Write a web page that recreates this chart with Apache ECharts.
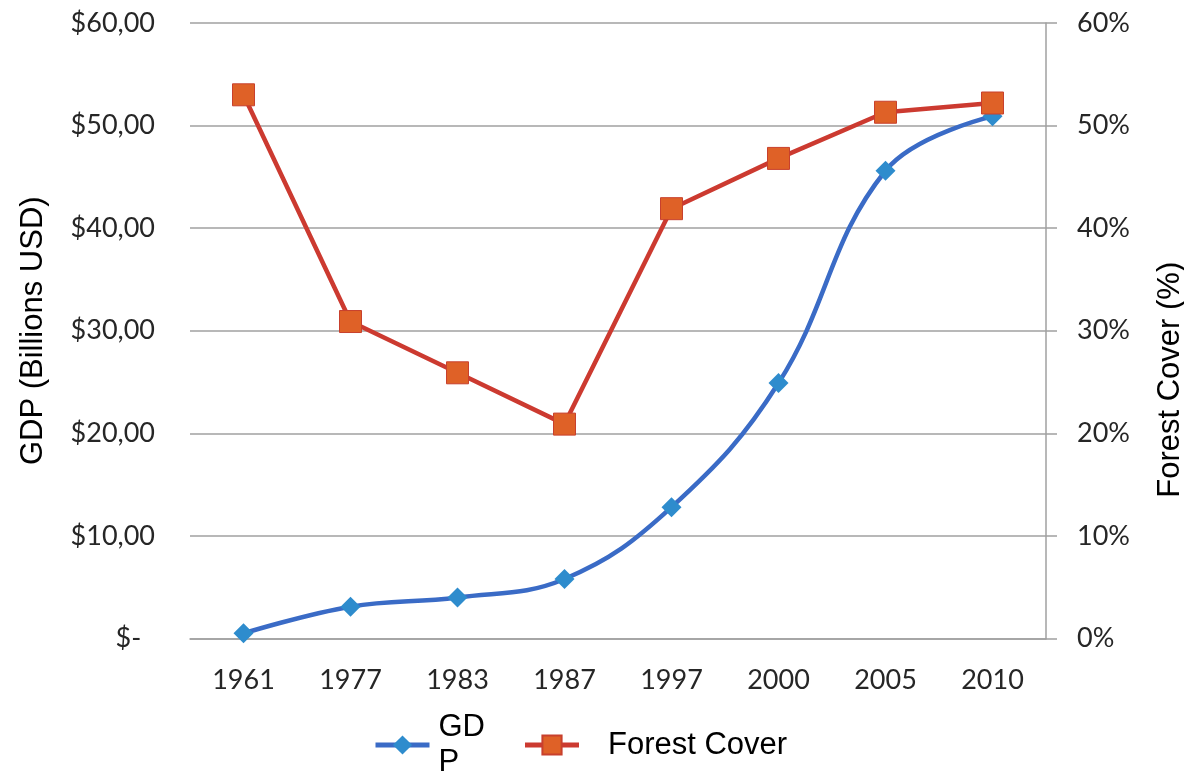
<!DOCTYPE html>
<html>
<head>
<meta charset="utf-8">
<script src="https://cdn.jsdelivr.net/npm/echarts@6/dist/echarts.min.js"></script>
<style>html,body{margin:0;padding:0;background:#fff;}#c{width:1184px;height:772px;}</style>
</head>
<body>
<div id="c"></div>
<script>
const years = ['1961','1977','1983','1987','1997','2000','2005','2010'];
const gdp = [0.5, 3.1, 4.0, 5.8, 12.8, 24.9, 45.6, 50.9];
const forestCover = [53.0, 30.9, 25.9, 20.9, 41.9, 46.8, 51.3, 52.2];
const gdpTicks = [0, 10, 20, 30, 40, 50, 60];
const forestTicks = [0, 10, 20, 30, 40, 50, 60];

const chart = echarts.init(document.getElementById('c'));
const tickFont = {fontFamily: 'Lato', fontSize: 27, color: '#262626'};
chart.setOption({
  animation: false,
  backgroundColor: '#fff',
  grid: {left: 190, right: 138, top: 23, bottom: 133.5, containLabel: false, outerBoundsMode: 'none'},
  legend: {
    left: 368, top: 705, itemWidth: 54, itemHeight: 24, itemGap: 34,
    lineStyle: {width: 5},
    textStyle: {fontFamily: 'Liberation Sans', fontSize: 31, color: '#000'},
    data: [
      {name: 'GDP', textStyle: {width: 50, overflow: 'breakAll', lineHeight: 35, padding: [0,0,0,4]}},
      {name: 'Forest Cover', textStyle: {padding: [0,0,0,24]}}
    ]
  },
  xAxis: {
    type: 'category', data: years, boundaryGap: true,
    axisLine: {lineStyle: {color: '#a0a0a0', width: 1.5}},
    axisTick: {show: false},
    axisLabel: Object.assign({margin: 28}, tickFont)
  },
  yAxis: [
    {
      type: 'value', min: gdpTicks[0], max: gdpTicks[gdpTicks.length-1], interval: 10,
      name: 'GDP (Billions USD)', nameLocation: 'middle', nameRotate: 90, nameGap: 141,
      nameTextStyle: {fontFamily: 'Liberation Sans', fontSize: 31, color: '#000'},
      axisLine: {show: false}, axisTick: {show: false},
      splitLine: {lineStyle: {color: '#a0a0a0', width: 1.5}},
      axisLabel: Object.assign({margin: 35, formatter: v => v === 0 ? '$-  ' : '$' + v + ',00'}, tickFont)
    },
    {
      type: 'value', min: forestTicks[0], max: forestTicks[forestTicks.length-1], interval: 10, position: 'right',
      name: 'Forest Cover (%)', nameLocation: 'middle', nameRotate: 90, nameGap: 109,
      nameTextStyle: {fontFamily: 'Liberation Sans', fontSize: 31, color: '#000', padding: [0, 98, 0, 0]},
      axisLine: {show: true, lineStyle: {color: '#a0a0a0', width: 1.5}},
      axisTick: {show: true, length: 11, lineStyle: {color: '#a0a0a0', width: 1.5}},
      splitLine: {show: false},
      axisLabel: Object.assign({margin: 31, formatter: '{value}%'}, tickFont)
    }
  ],
  series: [
    {
      name: 'GDP', type: 'line', yAxisIndex: 0, data: gdp, smooth: 0.4,
      symbol: 'diamond', symbolSize: 20,
      lineStyle: {color: '#3a6bc6', width: 4.5},
      itemStyle: {color: '#2e8ccd', borderColor: '#2e8ccd', borderWidth: 0}
    },
    {
      name: 'Forest Cover', type: 'line', yAxisIndex: 1, data: forestCover,
      symbol: 'rect', symbolSize: 22,
      lineStyle: {color: '#cc3a30', width: 4.5},
      itemStyle: {color: '#df6127', borderColor: '#c8402d', borderWidth: 1}
    }
  ]
});
</script>
</body>
</html>
